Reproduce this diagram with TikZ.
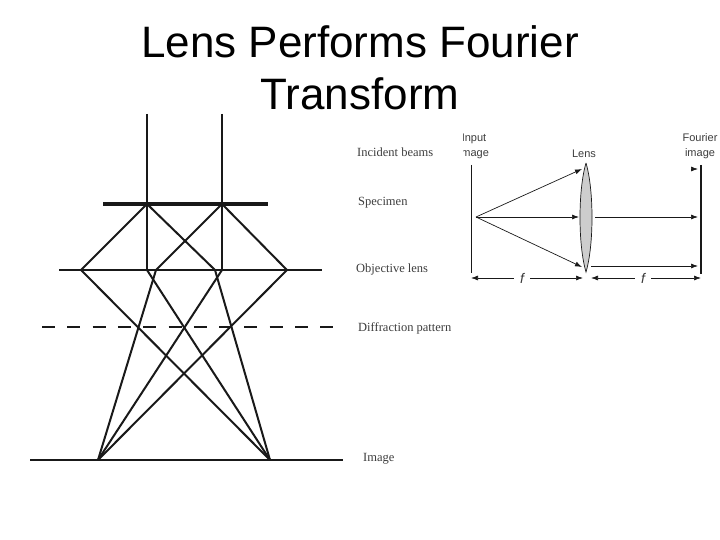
\documentclass[tikz,border=0pt]{standalone}
\usepackage{fontspec}
\usepackage{xcolor}
\setmainfont{Liberation Serif}
\setsansfont{Liberation Sans}
\usetikzlibrary{calc,arrows.meta}
\definecolor{rayBlack}{RGB}{25,25,25}
\definecolor{lensGrey}{RGB}{205,205,205}
\definecolor{labelGrey}{RGB}{60,60,60}
\newcommand{\TitleFont}{\fontsize{44}{52}\selectfont\sffamily}
\newcommand{\LabelFont}{\fontsize{12.5}{14}\selectfont}
\newcommand{\SmallFont}{\fontsize{11}{15}\selectfont\sffamily}
\tikzset{
  ray/.style={draw=rayBlack,line width=2pt},
  plane/.style={draw=rayBlack,line width=1.6pt},
  beam/.style={draw=rayBlack,line width=0.7pt,-{Latex[length=7pt,width=5pt]}},
  leftlabel/.style={anchor=west,inner sep=0pt,text=labelGrey,font=\LabelFont},
  rightlabel/.style={inner sep=0pt,align=center,text=labelGrey,font=\SmallFont},
  focal/.style={inner xsep=6pt,inner ysep=1pt,text=labelGrey,font=\fontsize{14}{15}\selectfont\sffamily\itshape}
}
\begin{document}
\begin{tikzpicture}[x=1pt,y=-1pt]
\useasboundingbox (0,0) rectangle (720,540);
\node[align=center,inner sep=0pt,font=\TitleFont] (title) at (360,68) {Lens Performs Fourier\\Transform};

\coordinate (topA) at (147,114);
\coordinate (topB) at (222,114);
\coordinate (specL) at (103,204);
\coordinate (specR) at (268,204);
\coordinate (specA) at (147,204);
\coordinate (specB) at (222,204);
\coordinate (objL) at (59,270);
\coordinate (objR) at (322,270);
\coordinate (objA) at (81,270);
\coordinate (objB) at (147,270);
\coordinate (objC) at (156,270);
\coordinate (objD) at (215,270);
\coordinate (objE) at (222,270);
\coordinate (objF) at (287,270);
\coordinate (diffL) at (42,327);
\coordinate (diffR) at (333,327);
\coordinate (imgL) at (30,460);
\coordinate (imgR) at (343,460);
\coordinate (imgA) at (98,460);
\coordinate (imgB) at (270,460);

\draw[plane] (topA) -- (objB);
\draw[plane] (topB) -- (objE);
\draw[draw=rayBlack,line width=3.4pt] (specL) -- (specR);
\draw[plane] (objL) -- (objR);
\draw[plane] (imgL) -- (imgR);
\draw[draw=rayBlack,line width=1.8pt,dash pattern=on 13pt off 12.3pt] (diffL) -- (diffR);
\foreach \s/\e in {specA/objA,specA/objD,specB/objC,specB/objF}
  \draw[ray] (\s) -- (\e);
\foreach \s in {objA,objB,objD}
  \draw[ray] (\s) -- (imgB);
\foreach \s in {objC,objE,objF}
  \draw[ray] (\s) -- (imgA);

\node[leftlabel] (incident) at (357,152) {Incident beams};
\node[leftlabel] (specimen) at (358,203) {Specimen};
\node[leftlabel] (objective) at (356,269) {Objective lens};
\node[leftlabel] (diffraction) at (358,328) {Diffraction pattern};
\node[leftlabel] (image) at (363,459) {Image};

\coordinate (inTop) at (471,165);
\coordinate (inBot) at (471,273);
\coordinate (source) at (476,217);
\coordinate (lensTop) at (586,163);
\coordinate (lensBot) at (586,272);
\coordinate (hitTop) at (582,169);
\coordinate (hitMid) at (579,217);
\coordinate (hitBot) at (582,267);
\coordinate (outMid) at (595,217);
\coordinate (outBot) at (591,266);
\coordinate (outTop) at (691,169);
\coordinate (fourTop) at (698,169);
\coordinate (fourMid) at (698,217);
\coordinate (fourBot) at (698,266);
\coordinate (ftTop) at (701,165);
\coordinate (ftBot) at (701,274);
\coordinate (dimA) at (471,278);
\coordinate (dimB) at (583,278);
\coordinate (dimC) at (591,278);
\coordinate (dimD) at (701,278);

\draw[draw=rayBlack,line width=0.7pt,fill=lensGrey] (lensTop) .. controls (578,190) and (578,245) .. (lensBot) .. controls (594,245) and (594,190) .. (lensTop);
\draw[draw=rayBlack,line width=0.8pt] (inTop) -- (inBot);
\draw[draw=rayBlack,line width=1.6pt] (ftTop) -- (ftBot);
\foreach \e in {hitTop,hitMid,hitBot}
  \draw[beam] (source) -- (\e);
\draw[beam] (outMid) -- (fourMid);
\draw[beam] (outBot) -- (fourBot);
\draw[beam] (outTop) -- (fourTop);

\node[focal] (fA) at (522,278) {f};
\node[focal] (fB) at (643,278) {f};
\draw[beam] (fA.west) -- (dimA);
\draw[beam] (fA.east) -- (dimB);
\draw[beam] (fB.west) -- (dimC);
\draw[beam] (fB.east) -- (dimD);

\begin{scope}
\clip (463,125) rectangle (720,165);
\node[rightlabel] (inputlabel) at (474,146) {Input\\image};
\end{scope}
\node[rightlabel] (lenslabel) at (584,153.5) {Lens};
\node[rightlabel] (fourierlabel) at (700,146) {Fourier\\image};
\end{tikzpicture}
\end{document}
